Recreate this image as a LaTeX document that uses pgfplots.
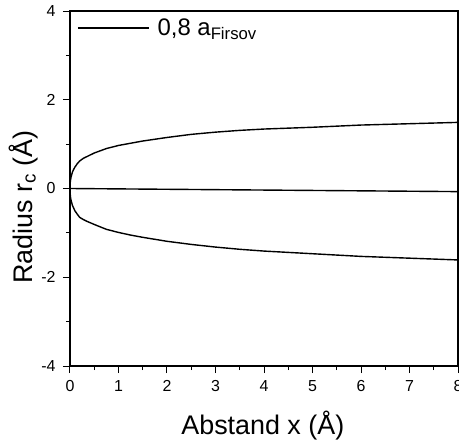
\documentclass[border=0pt]{standalone}
\usepackage{pgfplots}
\pgfplotsset{compat=1.18}
\usepackage{fontspec}
\setmainfont{Liberation Sans}
\begin{document}
\begin{tikzpicture}
\begin{axis}[
  scale only axis,
  width=388bp, height=355bp,
  xmin=0, xmax=8, ymin=-4, ymax=4,
  xtick={0,1,...,8}, ytick={-4,-2,0,2,4},
  minor x tick num=1, minor y tick num=1,
  tick align=outside, tick pos=left,
  major tick length=7bp, minor tick length=4bp,
  every tick/.style={black, line width=1bp},
  axis line style={line width=1.2bp},
  /pgf/number format/assume math mode=true,
  tick label style={font=\fontsize{16}{16}\selectfont},
  xticklabel style={yshift=-4bp},
  yticklabel style={xshift=-4bp},
  xlabel={Abstand x (Å)},
  ylabel={Radius r\textsubscript{c} (Å)},
  every axis x label/.style={at={(axis description cs:0.497,-0.194)}, anchor=base, font=\fontsize{27}{27}\selectfont},
  every axis y label/.style={at={(axis description cs:-0.121,0.448)}, rotate=90, anchor=center, font=\fontsize{27}{27}\selectfont},
  legend style={at={(axis description cs:0.018,0.952)}, anchor=west, draw=none, fill=none,
    inner sep=0pt, font=\fontsize{24}{24}\selectfont, nodes={inner sep=0pt}},
  legend image code/.code={\draw[#1] (0bp,0bp) -- (71bp,0bp); \path (79bp,0bp);},
  legend cell align=left,
]
\addplot[black, line width=1.4bp] coordinates {
(0,0) (0.002,0.08) (0.005,0.13) (0.01,0.18) (0.02,0.25) (0.035,0.31) (0.05,0.37) (0.075,0.43) (0.1,0.48) (0.15,0.56) (0.2,0.62) (0.275,0.68) (0.35,0.72) (0.5,0.80) (0.75,0.90) (1.0,0.97) (1.25,1.02) (1.5,1.07) (2.0,1.15) (2.5,1.22) (3.0,1.27) (3.5,1.31) (4.0,1.34) (5.0,1.38) (6.0,1.43) (7.0,1.46) (8.0,1.49)
};
\addlegendentry{0,8 a\textsubscript{Firsov}}
\addplot[black, line width=1.4bp, forget plot] coordinates {
(0,0) (8,-0.07)
};
\addplot[black, line width=1.4bp, forget plot] coordinates {
(0,0) (0.002,-0.08) (0.005,-0.13) (0.01,-0.19) (0.02,-0.26) (0.035,-0.32) (0.05,-0.38) (0.075,-0.44) (0.1,-0.50) (0.15,-0.58) (0.2,-0.65) (0.275,-0.70) (0.35,-0.74) (0.5,-0.81) (0.75,-0.92) (1.0,-0.99) (1.25,-1.05) (1.5,-1.10) (2.0,-1.19) (2.5,-1.26) (3.0,-1.32) (3.5,-1.37) (4.0,-1.41) (5.0,-1.47) (6.0,-1.53) (7.0,-1.57) (8.0,-1.61)
};
\coordinate (ll) at (rel axis cs:0,0);
\end{axis}
\pgfresetboundingbox
\useasboundingbox ([xshift=-70bp,yshift=-78bp]ll) rectangle ([xshift=389bp,yshift=366bp]ll);
\end{tikzpicture}
\end{document}
